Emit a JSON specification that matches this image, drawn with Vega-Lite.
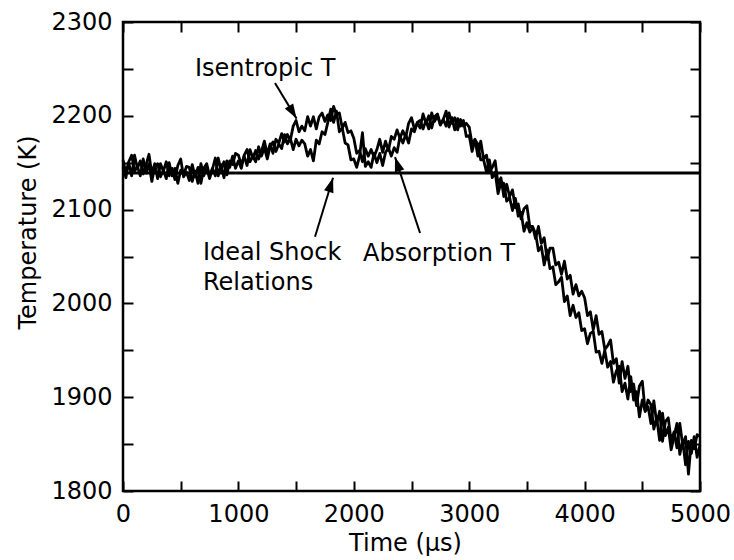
{
  "$schema": "https://vega.github.io/schema/vega-lite/v6.json",
  "width": 577,
  "height": 469,
  "autosize": {"type": "none"},
  "padding": {"left": 123, "top": 22, "right": 34, "bottom": 69},
  "background": "white",
  "config": {
    "view": {"stroke": "black", "strokeWidth": 2.5},
    "font": "DejaVu Sans",
    "axis": {
      "domain": false,
      "grid": false,
      "tickColor": "black",
      "tickWidth": 2,
      "labelColor": "black",
      "titleColor": "black",
      "labelFont": "DejaVu Sans",
      "titleFont": "DejaVu Sans",
      "labelFontSize": 24,
      "titleFontSize": 24,
      "titleFontWeight": "normal"
    }
  },
  "datasets": {
    "traces": [
      {"t":0,"iso":2153,"abs":2145},{"t":25,"iso":2139,"abs":2134},{"t":50,"iso":2150,"abs":2151},{"t":75,"iso":2136,"abs":2158},
      {"t":100,"iso":2158,"abs":2141},{"t":125,"iso":2144,"abs":2146},{"t":150,"iso":2152,"abs":2136},{"t":175,"iso":2138,"abs":2154},
      {"t":200,"iso":2148,"abs":2139},{"t":225,"iso":2159,"abs":2149},{"t":250,"iso":2138,"abs":2130},{"t":275,"iso":2149,"abs":2146},
      {"t":300,"iso":2133,"abs":2149},{"t":325,"iso":2149,"abs":2135},{"t":350,"iso":2141,"abs":2142},{"t":375,"iso":2151,"abs":2133},
      {"t":400,"iso":2136,"abs":2150},{"t":425,"iso":2144,"abs":2136},{"t":450,"iso":2132,"abs":2144},{"t":475,"iso":2147,"abs":2128},
      {"t":500,"iso":2154,"abs":2142},{"t":525,"iso":2135,"abs":2137},{"t":550,"iso":2140,"abs":2146},{"t":575,"iso":2131,"abs":2145},
      {"t":600,"iso":2148,"abs":2130},{"t":625,"iso":2135,"abs":2141},{"t":650,"iso":2145,"abs":2128},{"t":675,"iso":2128,"abs":2149},
      {"t":700,"iso":2144,"abs":2136},{"t":725,"iso":2149,"abs":2145},{"t":750,"iso":2136,"abs":2133},{"t":775,"iso":2144,"abs":2143},
      {"t":800,"iso":2136,"abs":2155},{"t":825,"iso":2155,"abs":2136},{"t":850,"iso":2142,"abs":2148},{"t":875,"iso":2151,"abs":2134},
      {"t":900,"iso":2137,"abs":2152},{"t":925,"iso":2152,"abs":2145},{"t":950,"iso":2148,"abs":2157},{"t":975,"iso":2160,"abs":2144},
      {"t":1000,"iso":2158,"abs":2152},{"t":1025,"iso":2148,"abs":2144},{"t":1050,"iso":2157,"abs":2158},{"t":1075,"iso":2147,"abs":2164},
      {"t":1100,"iso":2164,"abs":2151},{"t":1125,"iso":2155,"abs":2157},{"t":1150,"iso":2163,"abs":2151},{"t":1175,"iso":2154,"abs":2167},
      {"t":1200,"iso":2162,"abs":2157},{"t":1225,"iso":2173,"abs":2166},{"t":1250,"iso":2159,"abs":2154},{"t":1275,"iso":2170,"abs":2167},
      {"t":1300,"iso":2160,"abs":2172},{"t":1325,"iso":2175,"abs":2162},{"t":1350,"iso":2171,"abs":2170},{"t":1375,"iso":2181,"abs":2165},
      {"t":1400,"iso":2172,"abs":2180},{"t":1425,"iso":2180,"abs":2170},{"t":1450,"iso":2174,"abs":2176},{"t":1475,"iso":2189,"abs":2164},
      {"t":1500,"iso":2195,"abs":2175},{"t":1525,"iso":2183,"abs":2168},{"t":1550,"iso":2189,"abs":2174},{"t":1575,"iso":2184,"abs":2170},
      {"t":1600,"iso":2199,"abs":2157},{"t":1625,"iso":2189,"abs":2164},{"t":1650,"iso":2199,"abs":2152},{"t":1675,"iso":2186,"abs":2174},
      {"t":1700,"iso":2199,"abs":2170},{"t":1725,"iso":2203,"abs":2183},{"t":1750,"iso":2194,"abs":2180},{"t":1775,"iso":2201,"abs":2193},
      {"t":1800,"iso":2195,"abs":2207},{"t":1825,"iso":2210,"abs":2193},{"t":1850,"iso":2201,"abs":2205},{"t":1875,"iso":2203,"abs":2183},
      {"t":1900,"iso":2187,"abs":2187},{"t":1925,"iso":2193,"abs":2171},{"t":1950,"iso":2182,"abs":2169},{"t":1975,"iso":2184,"abs":2153},
      {"t":2000,"iso":2176,"abs":2154},{"t":2025,"iso":2160,"abs":2145},{"t":2050,"iso":2163,"abs":2157},{"t":2075,"iso":2151,"abs":2182},
      {"t":2100,"iso":2165,"abs":2146},{"t":2125,"iso":2157,"abs":2151},{"t":2150,"iso":2164,"abs":2145},{"t":2175,"iso":2156,"abs":2160},
      {"t":2200,"iso":2164,"abs":2150},{"t":2225,"iso":2175,"abs":2160},{"t":2250,"iso":2161,"abs":2147},{"t":2275,"iso":2173,"abs":2161},
      {"t":2300,"iso":2163,"abs":2166},{"t":2325,"iso":2178,"abs":2157},{"t":2350,"iso":2175,"abs":2166},{"t":2375,"iso":2185,"abs":2161},
      {"t":2400,"iso":2176,"abs":2178},{"t":2425,"iso":2184,"abs":2171},{"t":2450,"iso":2177,"abs":2180},{"t":2475,"iso":2192,"abs":2171},
      {"t":2500,"iso":2198,"abs":2186},{"t":2525,"iso":2186,"abs":2183},{"t":2550,"iso":2192,"abs":2193},{"t":2575,"iso":2187,"abs":2195},
      {"t":2600,"iso":2202,"abs":2186},{"t":2625,"iso":2192,"abs":2195},{"t":2650,"iso":2200,"abs":2186},{"t":2675,"iso":2187,"abs":2203},
      {"t":2700,"iso":2199,"abs":2194},{"t":2725,"iso":2202,"abs":2200},{"t":2750,"iso":2191,"abs":2190},{"t":2775,"iso":2196,"abs":2196},
      {"t":2800,"iso":2189,"abs":2205},{"t":2825,"iso":2203,"abs":2188},{"t":2850,"iso":2192,"abs":2198},{"t":2875,"iso":2198,"abs":2185},
      {"t":2900,"iso":2185,"abs":2197},{"t":2925,"iso":2196,"abs":2189},{"t":2950,"iso":2189,"abs":2195},{"t":2975,"iso":2192,"abs":2178},
      {"t":3000,"iso":2188,"abs":2179},{"t":3025,"iso":2170,"abs":2162},{"t":3050,"iso":2175,"abs":2174},{"t":3075,"iso":2157,"abs":2170},
      {"t":3100,"iso":2173,"abs":2153},{"t":3125,"iso":2154,"abs":2153},{"t":3150,"iso":2158,"abs":2140},{"t":3175,"iso":2140,"abs":2153},
      {"t":3200,"iso":2145,"abs":2134},{"t":3225,"iso":2152,"abs":2140},{"t":3250,"iso":2127,"abs":2117},{"t":3275,"iso":2134,"abs":2129},
      {"t":3300,"iso":2114,"abs":2128},{"t":3325,"iso":2127,"abs":2109},{"t":3350,"iso":2114,"abs":2113},{"t":3375,"iso":2121,"abs":2099},
      {"t":3400,"iso":2102,"abs":2112},{"t":3425,"iso":2106,"abs":2093},{"t":3450,"iso":2090,"abs":2097},{"t":3475,"iso":2101,"abs":2077},
      {"t":3500,"iso":2104,"abs":2086},{"t":3525,"iso":2082,"abs":2076},{"t":3550,"iso":2082,"abs":2081},{"t":3575,"iso":2069,"abs":2075},
      {"t":3600,"iso":2082,"abs":2056},{"t":3625,"iso":2064,"abs":2061},{"t":3650,"iso":2070,"abs":2041},{"t":3675,"iso":2047,"abs":2057},
      {"t":3700,"iso":2059,"abs":2037},{"t":3725,"iso":2059,"abs":2039},{"t":3750,"iso":2041,"abs":2020},{"t":3775,"iso":2044,"abs":2023},
      {"t":3800,"iso":2031,"abs":2028},{"t":3825,"iso":2045,"abs":2002},{"t":3850,"iso":2026,"abs":2008},{"t":3875,"iso":2030,"abs":1987},
      {"t":3900,"iso":2010,"abs":1998},{"t":3925,"iso":2020,"abs":1985},{"t":3950,"iso":2008,"abs":1990},{"t":3975,"iso":2013,"abs":1971},
      {"t":4000,"iso":2006,"abs":1973},{"t":4025,"iso":1987,"abs":1957},{"t":4050,"iso":1991,"abs":1968},{"t":4075,"iso":1972,"abs":1970},
      {"t":4100,"iso":1987,"abs":1948},{"t":4125,"iso":1967,"abs":1949},{"t":4150,"iso":1970,"abs":1936},{"t":4175,"iso":1951,"abs":1950},
      {"t":4200,"iso":1955,"abs":1932},{"t":4225,"iso":1961,"abs":1938},{"t":4250,"iso":1936,"abs":1916},{"t":4275,"iso":1941,"abs":1928},
      {"t":4300,"iso":1915,"abs":1933},{"t":4325,"iso":1938,"abs":1906},{"t":4350,"iso":1920,"abs":1915},{"t":4375,"iso":1933,"abs":1898},
      {"t":4400,"iso":1906,"abs":1922},{"t":4425,"iso":1914,"abs":1897},{"t":4450,"iso":1891,"abs":1906},{"t":4475,"iso":1912,"abs":1879},
      {"t":4500,"iso":1917,"abs":1897},{"t":4525,"iso":1885,"abs":1885},{"t":4550,"iso":1890,"abs":1897},{"t":4575,"iso":1872,"abs":1892},
      {"t":4600,"iso":1896,"abs":1866},{"t":4625,"iso":1872,"abs":1878},{"t":4650,"iso":1885,"abs":1854},{"t":4675,"iso":1853,"abs":1883},
      {"t":4700,"iso":1874,"abs":1859},{"t":4725,"iso":1878,"abs":1868},{"t":4750,"iso":1853,"abs":1844},{"t":4775,"iso":1863,"abs":1858},
      {"t":4800,"iso":1846,"abs":1872},{"t":4825,"iso":1872,"abs":1839},{"t":4850,"iso":1849,"abs":1854},{"t":4875,"iso":1858,"abs":1828},
      {"t":4900,"iso":1818,"abs":1853},{"t":4925,"iso":1854,"abs":1840},{"t":4950,"iso":1845,"abs":1858},{"t":4975,"iso":1860,"abs":1836},
      {"t":5000,"iso":1858,"abs":1849}
    ],
    "ideal": [
      {"t": 0, "T": 2139},
      {"t": 5000, "T": 2139}
    ],
    "arrows": [
      {"name": "Isentropic T", "t0": 1317, "T0": 2235, "t": 1504, "T": 2197},
      {"name": "Ideal Shock Relations", "t0": 1664, "T0": 2071, "t": 1820, "T": 2134},
      {"name": "Absorption T", "t0": 2574, "T0": 2075, "t": 2357, "T": 2156}
    ],
    "labels": [
      {"label": "Isentropic T", "t": 624, "T": 2242.4},
      {"label": "Ideal Shock\nRelations", "t": 693, "T": 2046.3},
      {"label": "Absorption T", "t": 2080, "T": 2045.2}
    ]
  },
  "layer": [
    {
      "data": {"name": "traces"},
      "transform": [{"fold": ["iso", "abs"], "as": ["series", "T"]}],
      "mark": {"type": "line", "color": "black", "strokeWidth": 2.8, "strokeJoin": "round"},
      "encoding": {
        "x": {
          "field": "t", "type": "quantitative",
          "scale": {"domain": [0, 5000], "nice": false, "zero": false},
          "axis": {
            "orient": "bottom",
            "title": "Time (µs)",
            "format": "d",
            "values": [0, 500, 1000, 1500, 2000, 2500, 3000, 3500, 4000, 4500, 5000],
            "labelExpr": "datum.value % 1000 === 0 ? datum.label : ''",
            "tickSize": -10,
            "labelPadding": 21,
            "labelFlush": false,
            "labelOverlap": false,
            "encode": {"ticks": {"update": {"y2": {"signal": "datum.value % 1000 === 0 ? -10 : -5"}}}},
            "titleX": 282,
            "titleY": 59,
            "titleBaseline": "alphabetic",
            "titleAlign": "center"
          }
        },
        "y": {
          "field": "T", "type": "quantitative",
          "scale": {"domain": [1800, 2300], "nice": false, "zero": false},
          "axis": {
            "orient": "left",
            "title": "Temperature (K)",
            "format": "d",
            "values": [1800, 1850, 1900, 1950, 2000, 2050, 2100, 2150, 2200, 2250, 2300],
            "labelExpr": "datum.value % 100 === 0 ? datum.label : ''",
            "tickSize": -10,
            "labelPadding": 21,
            "labelFlush": false,
            "labelOverlap": false,
            "encode": {"ticks": {"update": {"x2": {"signal": "datum.value % 100 === 0 ? 10 : 5"}}}},
            "titleX": -88,
            "titleY": 210,
            "titleBaseline": "alphabetic",
            "titleAlign": "center",
            "titleAngle": -90
          }
        },
        "detail": {"field": "series"}
      }
    },
    {
      "data": {"name": "ideal"},
      "mark": {"type": "line", "color": "black", "strokeWidth": 3},
      "encoding": {
        "x": {
          "field": "t", "type": "quantitative",
          "axis": {
            "orient": "top",
            "title": null,
            "labels": false,
            "values": [0, 500, 1000, 1500, 2000, 2500, 3000, 3500, 4000, 4500, 5000],
            "tickSize": -10,
            "encode": {"ticks": {"update": {"y2": {"signal": "datum.value % 1000 === 0 ? 10 : 5"}}}}
          }
        },
        "y": {
          "field": "T", "type": "quantitative",
          "axis": {
            "orient": "right",
            "title": null,
            "labels": false,
            "values": [1800, 1850, 1900, 1950, 2000, 2050, 2100, 2150, 2200, 2250, 2300],
            "tickSize": -10,
            "encode": {"ticks": {"update": {"x2": {"signal": "datum.value % 100 === 0 ? -10 : -5"}}}}
          }
        }
      }
    },
    {
      "data": {"name": "arrows"},
      "mark": {"type": "rule", "color": "black", "strokeWidth": 2},
      "encoding": {
        "x": {"field": "t0", "type": "quantitative", "axis": null},
        "y": {"field": "T0", "type": "quantitative", "axis": null},
        "x2": {"field": "t"},
        "y2": {"field": "T"}
      }
    },
    {
      "data": {"name": "arrows"},
      "transform": [
        {"calculate": "atan2((datum.t - datum.t0) * 0.1154, (datum.T - datum.T0) * 0.938) * 180 / PI", "as": "ang"}
      ],
      "mark": {
        "type": "point",
        "shape": "M0,0L-0.4,1.2L0.4,1.2Z",
        "filled": true,
        "color": "black",
        "opacity": 1,
        "size": 600
      },
      "encoding": {
        "x": {"field": "t", "type": "quantitative", "axis": null},
        "y": {"field": "T", "type": "quantitative", "axis": null},
        "angle": {"field": "ang", "type": "quantitative", "scale": null}
      }
    },
    {
      "data": {"name": "labels"},
      "mark": {
        "type": "text",
        "align": "left",
        "baseline": "alphabetic",
        "font": "DejaVu Sans",
        "fontSize": 24,
        "lineBreak": "\n",
        "lineHeight": 30,
        "color": "black"
      },
      "encoding": {
        "x": {"field": "t", "type": "quantitative", "axis": null},
        "y": {"field": "T", "type": "quantitative", "axis": null},
        "text": {"field": "label"}
      }
    }
  ]
}
